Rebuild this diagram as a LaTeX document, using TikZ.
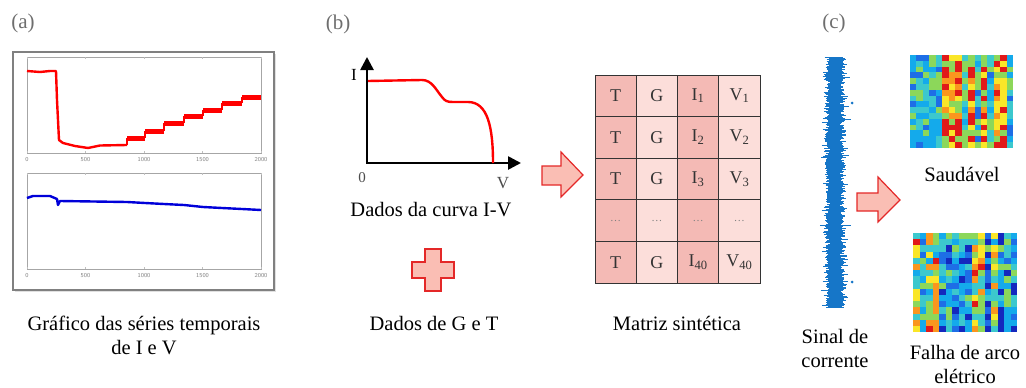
\documentclass[tikz,border=0pt]{standalone}
\usepackage{fontspec}
\setmainfont{Liberation Serif}
\usetikzlibrary{arrows.meta}

\definecolor{panelgray}{RGB}{110,110,110}
\definecolor{arrowfill}{RGB}{250,190,180}
\definecolor{arrowline}{RGB}{228,40,40}
\definecolor{celldark}{RGB}{244,186,181}
\definecolor{celllight}{RGB}{252,222,218}
\definecolor{sigblue}{RGB}{22,118,200}
\definecolor{jet0}{RGB}{20,40,190}
\definecolor{jet1}{RGB}{30,110,230}
\definecolor{jet2}{RGB}{20,170,235}
\definecolor{jet3}{RGB}{60,200,205}
\definecolor{jet4}{RGB}{140,215,90}
\definecolor{jet5}{RGB}{250,230,40}
\definecolor{jet6}{RGB}{250,150,30}
\definecolor{jet7}{RGB}{225,25,25}

\tikzset{
  panellabel/.style={text=panelgray,font=\fontsize{21}{24}\selectfont},
  caption/.style={align=center,font=\fontsize{20.5}{24}\selectfont},
  ticklabel/.style={text=gray,font=\sffamily\fontsize{6}{7}\selectfont},
  blockarrow/.style={draw=arrowline,fill=arrowfill,line width=1.2pt,line join=miter},
  cell/.style={draw=black!80,line width=0.9pt,minimum width=41.25pt,minimum height=41.6pt,
    inner sep=0pt,font=\fontsize{18}{20}\selectfont,text=black!80},
}
\newcommand{\celldots}{\textcolor{gray}{\fontsize{11}{12}\selectfont\dots}}

\begin{document}
\begin{tikzpicture}[x=1pt,y=-1pt,>=Triangle]
  \useasboundingbox (0,0) rectangle (1026,388);
  \pgfmathsetseed{17}

  % (a) time series of I and V
  \begin{scope}
    \node[panellabel] (lbla) at (23,23) {(a)};
    \fill[black!12] (15,54) rectangle (276,292);
    \fill[white] (13,52) rectangle (274,290);
    \draw[gray,line width=1.2pt] (13,52) rectangle (274,290);
    \draw[gray!70] (27,57) rectangle (261,153);
    \draw[gray!70] (27,173) rectangle (261,269);
    \foreach \t [count=\k from 0] in {0,500,1000,1500,2000}{
      \draw[gray!50] (27+\k*58.5,153) -- ++(0,-2) (27+\k*58.5,57) -- ++(0,2);
      \draw[gray!50] (27+\k*58.5,269) -- ++(0,-2) (27+\k*58.5,173) -- ++(0,2);
      \node[ticklabel] at (27+\k*58.5,160) {\t};
      \node[ticklabel] at (27+\k*58.5,276) {\t};
    }
    \draw[red,line width=2.4pt,line join=round] (27,71) -- (40,72) -- (50,71) -- (56,71)
      -- (57,100) -- (59,140) -- (63,143) -- (75,146) -- (88,148) -- (100,145.5) -- (127,145);
    \draw[red,line width=5pt] (127,138) -- (145,138) (145,131) -- (164,131) (164,123) -- (184,123)
      (184,116) -- (203,116) (203,110) -- (222,110) (222,103) -- (242,103) (242,97) -- (261,97);
    \draw[red,line width=1.5pt] (127,145) -- (127,138) (145,138) -- (145,131) (164,131) -- (164,123)
      (184,123) -- (184,116) (203,116) -- (203,110) (222,110) -- (222,103) (242,103) -- (242,97);
    \draw[blue!85!black,line width=2.4pt,line join=round] (27,198) -- (33,196) -- (50,196)
      -- (57,199) -- (58,205) -- (60,201) -- (127,202) -- (145,203) -- (164,204) -- (184,205)
      -- (203,207) -- (222,208) -- (242,209) -- (261,210);
    \node[caption] (capa) at (144,335) {Gráfico das séries temporais\\de I e V};
  \end{scope}

  % (b) I-V curve, G and T, synthetic matrix
  \begin{scope}
    \node[panellabel] (lblb) at (338,24) {(b)};
    \draw[line width=2.6pt,-{Triangle[length=13pt,width=13pt]}] (367,163) -- (367,57);
    \draw[line width=2.6pt,-{Triangle[length=13pt,width=13pt]}] (366,163) -- (521,163);
    \node[font=\fontsize{17}{19}\selectfont] (ilab) at (354,75) {I};
    \node[text=black!70,font=\fontsize{15}{17}\selectfont] (zero) at (362,178) {0};
    \node[text=black!70,font=\fontsize{17}{19}\selectfont] (vlab) at (503,183) {V};
    \draw[red,line width=2.4pt] (368,81) -- (422,80)
      .. controls (432,80) and (436,90) .. (442,97)
      .. controls (445,101) and (447,102) .. (453,102) -- (468,102)
      .. controls (488,102) and (493,128) .. (493,163);
    \node[caption] (capiv) at (431,210) {Dados da curva I-V};
    \draw[blockarrow] (425,249) -- (441,249) -- (441,262) -- (454,262) -- (454,278) -- (441,278)
      -- (441,291) -- (425,291) -- (425,278) -- (412,278) -- (412,262) -- (425,262) -- cycle;
    \node[caption] (capgt) at (434,323) {Dados de G e T};
    \draw[blockarrow] (542,166) -- (561,166) -- (561,152) -- (583,175) -- (561,197) -- (561,185)
      -- (542,185) -- cycle;
    \foreach \r/\tt/\gg/\ii/\vv in {1/T/G/I\textsubscript{1}/V\textsubscript{1},
        2/T/G/I\textsubscript{2}/V\textsubscript{2},
        3/T/G/I\textsubscript{3}/V\textsubscript{3},
        4/\celldots/\celldots/\celldots/\celldots,
        5/T/G/I\textsubscript{40}/V\textsubscript{40}}{
      \node[cell,fill=celldark] (m\r-1) at (615.6,75+\r*41.6-20.8) {\tt};
      \node[cell,fill=celllight] (m\r-2) at (656.9,75+\r*41.6-20.8) {\gg};
      \node[cell,fill=celldark] (m\r-3) at (698.1,75+\r*41.6-20.8) {\ii};
      \node[cell,fill=celllight] (m\r-4) at (739.4,75+\r*41.6-20.8) {\vv};
    }
    \node[caption] (capm) at (677,323) {Matriz sintética};
  \end{scope}

  % (c) current signal and images
  \begin{scope}
    \node[panellabel] (lblc) at (834,23) {(c)};
    \foreach \y in {57,57.7,...,308}{
      \pgfmathsetmacro\wl{5+4*rnd+9*rnd*rnd*rnd}
      \pgfmathsetmacro\wr{5+4*rnd+9*rnd*rnd*rnd}
      \draw[sigblue,line width=0.8pt] (835-\wl,\y) -- (835+\wr,\y);
    }
    \fill[sigblue] (852,103) circle (1.5) (852,282) circle (1.5);
    \foreach \c in {0,...,15}{
      \pgfmathsetmacro\cb{rnd<0.35 ? 5.8 : 2.7}
      \foreach \r in {0,...,15}{
        \pgfmathtruncatemacro\v{max(0,min(7,round(\cb+1.8*rand)))}
        \fill[jet\v] (910+\c*6.45,55+\r*5.8) rectangle ++(6.5,5.9);
      }
    }
    \foreach \c in {0,...,15}{
      \pgfmathsetmacro\cb{rnd<0.3 ? 4.5 : 2.0}
      \foreach \r in {0,...,15}{
        \pgfmathtruncatemacro\v{max(0,min(7,round(\cb+2.2*rand)))}
        \fill[jet\v] (913+\c*6.5,233+\r*6.2) rectangle ++(6.55,6.25);
      }
    }
    \draw[blockarrow] (857,193) -- (878,193) -- (878,177) -- (900,200) -- (878,222) -- (878,211)
      -- (857,211) -- cycle;
    \node[caption] (caps) at (962,174) {Saudável};
    \node[caption] (capsig) at (835,348) {Sinal de\\corrente};
    \node[caption] (capf) at (965,364) {Falha de arco\\elétrico};
  \end{scope}
\end{tikzpicture}
\end{document}
